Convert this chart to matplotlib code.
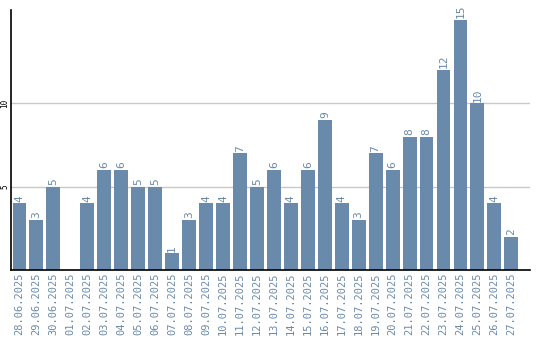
import matplotlib
matplotlib.use("Agg")
import matplotlib.pyplot as plt

dates = ["28.06.2025", "29.06.2025", "30.06.2025", "01.07.2025", "02.07.2025",
         "03.07.2025", "04.07.2025", "05.07.2025", "06.07.2025", "07.07.2025",
         "08.07.2025", "09.07.2025", "10.07.2025", "11.07.2025", "12.07.2025",
         "13.07.2025", "14.07.2025", "15.07.2025", "16.07.2025", "17.07.2025",
         "18.07.2025", "19.07.2025", "20.07.2025", "21.07.2025", "22.07.2025",
         "23.07.2025", "24.07.2025", "25.07.2025", "26.07.2025", "27.07.2025"]
counts = [4, 3, 5, 0, 4, 6, 6, 5, 5, 1, 3, 4, 4, 7, 5, 6, 4, 6, 9, 4,
          3, 7, 6, 8, 8, 12, 15, 10, 4, 2]
yticks = [5, 10]

bar_color = "#6a8aab"
label_color = "#6a8aab"

fig = plt.figure(figsize=(5.4, 3.4), dpi=100)
ax = fig.add_axes([11 / 540, 70 / 340, 519 / 540, 260 / 340])

x = list(range(len(dates)))
ax.bar(x, counts, width=0.82, color=bar_color, zorder=2)

# value labels above bars (skip empty days)
for xi, v in zip(x, counts):
    if v > 0:
        ax.text(xi, v + 0.1, str(v), rotation=90, ha="center", va="bottom",
                color=label_color, fontsize=8, family="DejaVu Sans Mono")

ax.set_xlim(-0.5, 30.1)
ax.set_ylim(0, 15.6)
ax.set_xticks(x)
ax.set_xticklabels(dates, rotation=90, color=label_color, fontsize=7.5,
                   family="DejaVu Sans Mono")
ax.set_yticks(yticks)
ax.set_yticklabels([str(t) for t in yticks], rotation=90, fontsize=5.5,
                   family="DejaVu Sans Mono", va="center")
ax.tick_params(axis="x", length=0, pad=2)
ax.tick_params(axis="y", length=0, pad=1)
ax.grid(axis="y", color="#c8c8c8", linewidth=1, zorder=0)

for side in ["top", "right"]:
    ax.spines[side].set_visible(False)
ax.spines["left"].set_linewidth(1.2)
ax.spines["bottom"].set_linewidth(1.2)

fig.savefig("out.png", dpi=100)
